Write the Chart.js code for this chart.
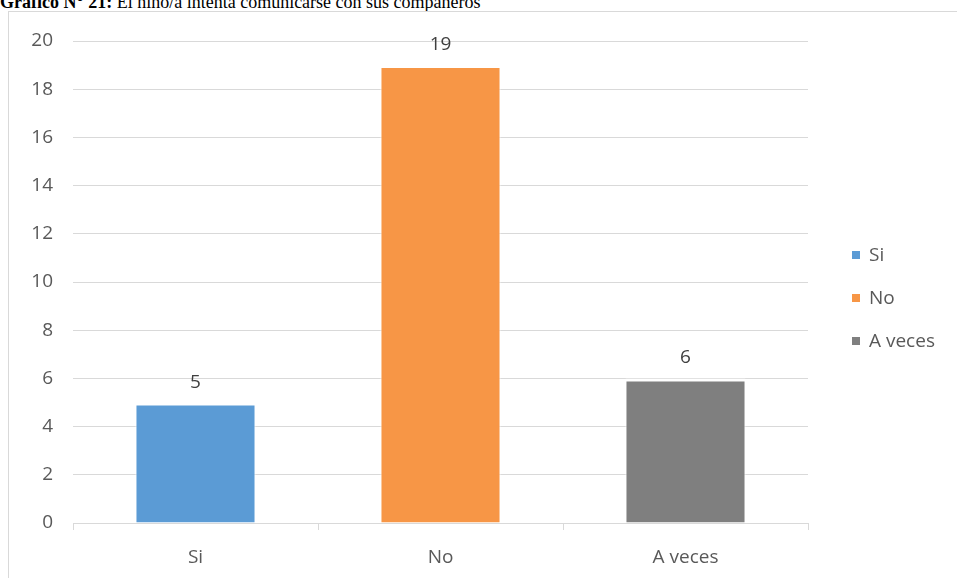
<!DOCTYPE html>
<html>
<head>
<meta charset="utf-8">
<script src="https://cdn.jsdelivr.net/npm/chart.js@4.4.0/dist/chart.umd.min.js"></script>
<style>
  html, body { margin: 0; padding: 0; background: #fff; overflow: hidden; }
  #wrap { position: relative; width: 957px; height: 578px; }
  #title {
    position: absolute; left: 0; top: -7px; white-space: nowrap;
    font-family: "Liberation Serif", serif; font-size: 18px; line-height: 18px; color: #000;
  }
  #frame {
    position: absolute; left: 8px; top: 11px; width: 960px; height: 580px;
    border: 1px solid #d9d9d9; box-sizing: border-box;
  }
  canvas { position: absolute; left: 0; top: 0; }
</style>
</head>
<body>
<div id="wrap">
  <div id="title"><b>Gráfico N° 21:</b> El niño/a intenta comunicarse con sus compañeros</div>
  <div id="frame"></div>
  <canvas id="chart" width="957" height="578"></canvas>
</div>
<script>
// chart data
const categories = ['Si', 'No', 'A veces'];
const values = [5, 19, 6];
const barColors = ['#5b9bd5', '#f79646', '#7f7f7f'];
const yTicks = [0, 2, 4, 6, 8, 10, 12, 14, 16, 18, 20];

const FONT = '"Open Sans", "Liberation Sans", sans-serif';
const TEXT = '#595959';
const SIZE = 19;

// value labels above each bar
const barLabels = {
  id: 'barLabels',
  afterDatasetsDraw(chart) {
    const ctx = chart.ctx;
    const meta = chart.getDatasetMeta(0);
    ctx.save();
    ctx.font = SIZE + 'px ' + FONT;
    ctx.fillStyle = '#404040';
    ctx.textAlign = 'center';
    ctx.textBaseline = 'alphabetic';
    meta.data.forEach((bar, i) => {
      ctx.fillText(String(values[i]), bar.x, bar.y - 15);
    });
    ctx.restore();
  }
};

// legend on the right, one entry per category (vary colours by point)
const sideLegend = {
  id: 'sideLegend',
  afterDraw(chart) {
    const ctx = chart.ctx;
    const x = chart.chartArea.right + 44;
    const startY = 255;
    const step = 43;
    ctx.save();
    ctx.font = SIZE + 'px ' + FONT;
    ctx.textBaseline = 'middle';
    categories.forEach((c, i) => {
      const y = startY + i * step;
      ctx.fillStyle = barColors[i];
      ctx.fillRect(x, y - 4, 8, 8);
      ctx.fillStyle = TEXT;
      ctx.fillText(c, x + 17, y + 1);
    });
    ctx.restore();
  }
};

new Chart(document.getElementById('chart'), {
  type: 'bar',
  data: {
    labels: categories,
    datasets: [{
      label: 'Serie',
      data: values,
      backgroundColor: barColors,
      borderColor: '#ffffff',
      borderWidth: { top: 3, left: 1, right: 1, bottom: 0 },
      borderSkipped: false,
      categoryPercentage: 1,
      barPercentage: 0.49
    }]
  },
  options: {
    responsive: false,
    animation: false,
    layout: { padding: { left: 0, right: 149, top: 41, bottom: 0 } },
    plugins: {
      legend: { display: false },
      tooltip: { enabled: false }
    },
    scales: {
      y: {
        min: 0,
        max: 20,
        afterBuildTicks(scale) {
          scale.ticks = yTicks.map(v => ({ value: v }));
        },
        afterFit(scale) { scale.width = 73; },
        grid: { color: '#d9d9d9', lineWidth: 1, drawTicks: false },
        border: { display: false },
        ticks: { color: TEXT, font: { family: FONT, size: SIZE }, padding: 20 }
      },
      x: {
        afterFit(scale) { scale.height = 55; },
        grid: { offset: true, drawOnChartArea: false, color: '#d9d9d9', tickLength: 7, lineWidth: 1 },
        border: { color: '#d9d9d9', width: 1 },
        ticks: { color: TEXT, font: { family: FONT, size: SIZE }, padding: 16 }
      }
    }
  },
  plugins: [barLabels, sideLegend]
});
</script>
</body>
</html>
